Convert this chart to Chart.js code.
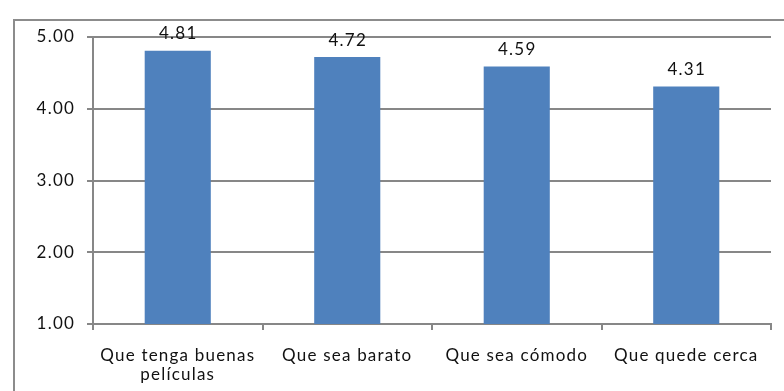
<!DOCTYPE html>
<html>
<head>
<meta charset="utf-8">
<script src="https://cdn.jsdelivr.net/npm/chart.js@4"></script>
<style>
html,body{margin:0;padding:0;background:#fff;}
#wrap{width:784px;height:391px;position:relative;}
</style>
</head>
<body>
<div id="wrap"><canvas id="c" width="784" height="391"></canvas></div>
<script>
const categories = [["Que tenga buenas","películas"],"Que sea barato","Que sea cómodo","Que quede cerca"];
const values = [4.81, 4.72, 4.59, 4.31];
const yTicks = [1, 2, 3, 4, 5];

const FONT = "Lato";
const GRID = "#878787";
const SPACING = '1.2px';

const frame = {
  id: 'frame',
  beforeLayout(chart) { chart.ctx.letterSpacing = SPACING; },
  beforeDraw(chart) {
    const ctx = chart.ctx;
    ctx.letterSpacing = SPACING;
    ctx.save();
    ctx.fillStyle = '#fff';
    ctx.fillRect(0, 0, chart.width, chart.height);
    ctx.strokeStyle = '#8c8c8c';
    ctx.lineWidth = 2;
    ctx.strokeRect(14, 20, 800, 400);
    ctx.restore();
  }
};

const labels = {
  id: 'labels',
  afterDatasetsDraw(chart) {
    const ctx = chart.ctx;
    const meta = chart.getDatasetMeta(0);
    ctx.save();
    ctx.letterSpacing = SPACING;
    ctx.font = "17px " + FONT;
    ctx.fillStyle = '#111';
    ctx.textAlign = 'center';
    ctx.textBaseline = 'middle';
    meta.data.forEach((bar, i) => {
      ctx.fillText(values[i].toFixed(2), bar.x + 0.5, bar.y - 17);
    });
    // y axis tick labels, placed through the y scale
    const ys = chart.scales.y;
    ctx.textAlign = 'right';
    yTicks.forEach(v => {
      ctx.fillText(v.toFixed(2), ys.right - 18, ys.getPixelForValue(v));
    });
    ctx.restore();
  }
};

new Chart(document.getElementById('c'), {
  type: 'bar',
  data: {
    labels: categories,
    datasets: [{
      data: values,
      backgroundColor: '#4F81BD',
      borderWidth: 0,
      categoryPercentage: 1,
      barPercentage: 0.39
    }]
  },
  options: {
    responsive: false,
    animation: false,
    layout: { padding: { left: 0, top: 37, right: 13, bottom: 0 } },
    plugins: { legend: { display: false }, tooltip: { enabled: false } },
    scales: {
      x: {
        offset: true,
        grid: { offset: true, drawOnChartArea: false, drawTicks: true, tickLength: 6, color: GRID, lineWidth: 2 },
        border: { color: GRID, width: 2 },
        ticks: { color: '#111', font: { family: FONT, size: 17, lineHeight: 1.12 }, padding: 16, maxRotation: 0, autoSkip: false },
        afterFit(s) { s.height = 67; }
      },
      y: {
        min: 1, max: 5,
        afterBuildTicks(s) { s.ticks = yTicks.map(v => ({ value: v })); },
        grid: { color: GRID, lineWidth: 2, tickLength: 6, drawTicks: true },
        border: { color: GRID, width: 2 },
        ticks: { display: false },
        afterFit(s) { s.width = 93; }
      }
    }
  },
  plugins: [frame, labels]
});
</script>
</body>
</html>
